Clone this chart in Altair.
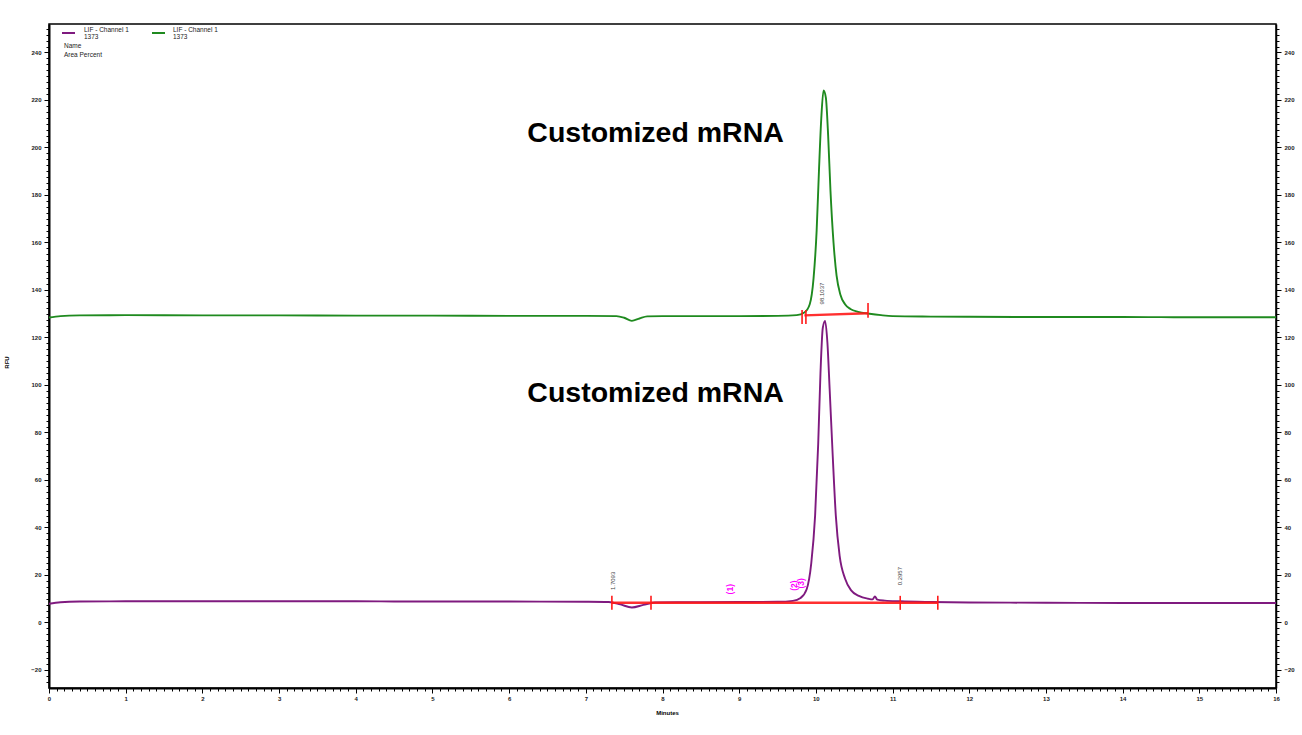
import altair as alt
import pandas as pd

# ---- data ----
green_t = [0.0, 0.15, 0.4, 1.0, 2.0, 3.0, 4.0, 5.0, 6.0, 7.0, 7.4, 7.5, 7.6, 7.7, 7.8, 8.0, 8.5, 9.0, 9.5, 9.75,
           9.85, 9.92, 9.97, 10.01, 10.04, 10.07, 10.1, 10.13, 10.16, 10.19, 10.23, 10.27, 10.32, 10.38, 10.45,
           10.55, 10.7, 10.85, 11.0, 11.5, 12.0, 13.0, 14.0, 15.0, 16.0]
green_v = [128.4, 129.0, 129.3, 129.4, 129.3, 129.3, 129.2, 129.2, 129.1, 129.1, 129.0, 128.3, 127.0, 128.0, 128.9,
           129.0, 129.0, 129.0, 129.1, 129.4,
           130.5, 134.0, 145.0, 165.0, 190.0, 212.0, 224.0, 221.0, 205.0, 182.0, 160.0, 146.0, 138.0, 134.0, 132.0,
           130.8, 130.0, 129.4, 129.0, 128.8, 128.7, 128.6, 128.6, 128.5, 128.5]

purple_t = [0.0, 0.15, 0.4, 1.0, 2.0, 3.0, 4.0, 5.0, 6.0, 7.0, 7.3, 7.45, 7.6, 7.75, 7.9, 8.2, 8.5, 9.0, 9.5, 9.7,
            9.8, 9.88, 9.94, 9.99, 10.03, 10.06, 10.09, 10.12, 10.15, 10.18, 10.22, 10.26, 10.31, 10.38, 10.46,
            10.56, 10.68, 10.74, 10.77, 10.8, 10.9, 11.1, 11.5, 12.0, 13.0, 14.0, 15.0, 16.0]
purple_v = [7.9, 8.5, 8.8, 8.9, 8.9, 8.9, 8.9, 8.8, 8.8, 8.7, 8.6, 7.6, 6.3, 7.4, 8.4, 8.5, 8.5, 8.6, 8.7, 9.1,
            10.3, 14.0, 25.0, 45.0, 75.0, 105.0, 124.0, 127.0, 118.0, 98.0, 70.0, 45.0, 28.0, 18.5, 13.5,
            11.2, 10.0, 9.7, 11.0, 9.6, 9.2, 8.9, 8.6, 8.4, 8.3, 8.2, 8.2, 8.2]

# integration baselines (red)
base_x1 = [7.34, 9.85]
base_x2 = [11.59, 10.68]
base_y1 = [8.3, 129.3]
base_y2 = [8.3, 130.2]
# integration tick marks (red): time, low, high
mark_t = [7.34, 7.85, 11.1, 11.59, 9.82, 9.87, 10.68]
mark_lo = [5.3, 5.3, 5.3, 5.3, 125.7, 125.7, 128.3]
mark_hi = [11.2, 11.2, 11.2, 11.2, 131.6, 131.6, 134.5]

# peak area labels (rotated)
area_t = [7.35, 11.1, 10.08]
area_y = [17.5, 19.5, 138.5]
area_txt = ["1.7093", "0.2957", "98.1037"]

# magenta peak numbers
num_t = [8.88, 9.72, 9.8]
num_y = [14.0, 15.5, 16.5]
num_txt = ["(1)", "(2)", "(3)"]

ann_t = [7.91, 7.91]
ann_y = [206.0, 96.6]
ann_txt = ["Customized mRNA", "Customized mRNA"]

x_ticks = [round(i * 0.1, 1) for i in range(0, 161)]
y_ticks = [round(-25 + i * 2.5, 1) for i in range(0, 111)]

X_DOM = [0, 16]
Y_DOM = [-27.6, 252.0]
PURPLE = "#7f1a7f"
GREEN = "#1f8a1f"
RED = "#ff1a1a"
FONT = "Liberation Sans"

traces = pd.concat([
    pd.DataFrame({"t": green_t, "v": green_v, "s": "green"}),
    pd.DataFrame({"t": purple_t, "v": purple_v, "s": "purple"}),
])
base_df = pd.DataFrame({"x1": base_x1, "x2": base_x2, "y1": base_y1, "y2": base_y2})
mark_df = pd.DataFrame({"t": mark_t, "lo": mark_lo, "hi": mark_hi})
area_df = pd.DataFrame({"t": area_t, "y": area_y, "txt": area_txt})
num_df = pd.DataFrame({"t": num_t, "y": num_y, "txt": num_txt})
ann_df = pd.DataFrame({"t": ann_t, "y": ann_y, "txt": ann_txt})

major_y = "datum.value % 20 === 0"
major_x = "abs(datum.value - round(datum.value)) < 0.001"
x_axis = alt.Axis(
    values=x_ticks,
    labelExpr=f"{major_x} ? format(datum.value, 'd') : ''",
    tickSize={"condition": {"test": major_x, "value": 5}, "value": 3},
    title="Minutes", titleFontSize=6, titleFontWeight="bold", titleAnchor="middle",
    titleX=618, titleY=21, labelFontSize=6, labelFontWeight="bold", labelPadding=2, grid=False,
    domainColor="black", domainWidth=2, tickColor="black", labelColor="#222222",
    labelFlush=False, labelOverlap=False,
)
y_axis_left = alt.Axis(
    values=y_ticks,
    labelExpr=f"{major_y} ? format(datum.value, 'd') : ''",
    tickSize={"condition": {"test": major_y, "value": 5}, "value": 3},
    title="RFU", titleFontSize=6, titleFontWeight="bold", titleX=-40, titleY=338,
    labelFontSize=6, labelFontWeight="bold", labelPadding=3, grid=False, domainColor="black", domainWidth=2,
    tickColor="black", labelColor="#222222", labelOverlap=False,
)
y_axis_right = alt.Axis(
    orient="right", values=y_ticks,
    labelExpr=f"{major_y} ? format(datum.value, 'd') : ''",
    tickSize={"condition": {"test": major_y, "value": 5}, "value": 3},
    title=None, labelFontSize=6, labelFontWeight="bold", labelPadding=3, grid=False, domainColor="black",
    domainWidth=1.5, tickColor="black", labelColor="#222222", labelOverlap=False,
)

xs = alt.Scale(domain=X_DOM, nice=False, zero=False)
ys = alt.Scale(domain=Y_DOM, nice=False, zero=False)


def X(field):
    return alt.X(field, scale=xs, axis=x_axis, title="Minutes")


def Y(field):
    return alt.Y(field, scale=ys, axis=y_axis_left, title="RFU")


lines = alt.Chart(traces).mark_line(strokeWidth=1.9, interpolate="monotone").encode(
    x=X("t:Q"),
    y=Y("v:Q"),
    color=alt.Color("s:N", scale=alt.Scale(domain=["green", "purple"], range=[GREEN, PURPLE]), legend=None),
    detail="s:N",
)

base = alt.Chart(base_df).mark_rule(color=RED, strokeWidth=2.4, opacity=0.9).encode(
    x=X("x1:Q"), x2="x2:Q", y=Y("y1:Q"), y2="y2:Q")
marks = alt.Chart(mark_df).mark_rule(color=RED, strokeWidth=1.6).encode(
    x=X("t:Q"), y=Y("lo:Q"), y2="hi:Q")
areas = alt.Chart(area_df).mark_text(angle=270, fontSize=6, color="#444444", font=FONT).encode(
    x=X("t:Q"), y=Y("y:Q"), text="txt:N")
nums = alt.Chart(num_df).mark_text(angle=270, fontSize=8.5, fontWeight="bold", color="#ff00ff", font=FONT).encode(
    x=X("t:Q"), y=Y("y:Q"), text="txt:N")
ann = alt.Chart(ann_df).mark_text(fontSize=28.5, fontWeight="bold", color="black", font=FONT).encode(
    x=X("t:Q"), y=Y("y:Q"), text="txt:N")

# legend block (top-left)
leg_lines = pd.DataFrame({"x1": [13, 103], "x2": [26, 116], "c": ["purple", "green"]})
leg = alt.Chart(leg_lines).mark_rule(strokeWidth=2).encode(
    x=alt.X("x1:Q", scale=None), x2="x2:Q", y=alt.value(9),
    color=alt.Color("c:N", scale=alt.Scale(domain=["green", "purple"], range=["#3fa03f", "#b040b0"]), legend=None),
)
leg_text_df = pd.DataFrame({
    "x": [35, 35, 124, 124, 15, 15],
    "y": [6, 13, 6, 13, 22, 31],
    "txt": ["LIF - Channel 1", "1373", "LIF - Channel 1", "1373", "Name", "Area Percent"],
})
leg_text = alt.Chart(leg_text_df).mark_text(fontSize=6.5, align="left", baseline="middle", color="#222222", font=FONT).encode(
    x=alt.X("x:Q", scale=None), y=alt.Y("y:Q", scale=None), text="txt:N")

main = alt.layer(lines, base, marks, areas, nums, ann, leg, leg_text)

right = alt.Chart(traces).mark_line(opacity=0).encode(
    x=X("t:Q"),
    y=alt.Y("v:Q", scale=ys, axis=y_axis_right),
    detail="s:N",
)

chart = alt.layer(main, right).resolve_scale(y="independent").properties(
    width=1227, height=664,
    autosize=alt.AutoSizeParams(type="none"),
    padding={"left": 49, "top": 24, "right": 26, "bottom": 47},
    background="white",
).configure_view(stroke="black", strokeWidth=1.5).configure_axis(
    labelFont=FONT, titleFont=FONT
)

chart.save("out.html", embed_options={"renderer": "svg", "actions": False})
